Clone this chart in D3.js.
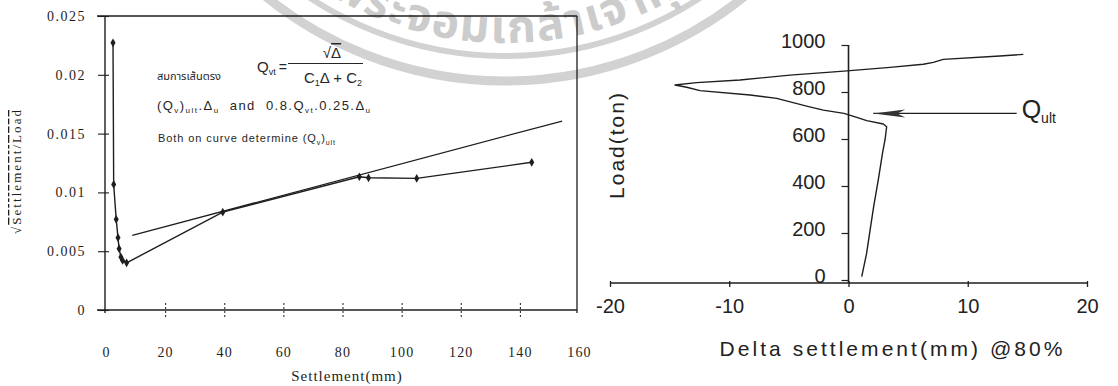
<!DOCTYPE html>
<html><head><meta charset="utf-8">
<script src="https://cdn.jsdelivr.net/npm/d3@7"></script>
<style>
html,body{margin:0;padding:0;background:#fff;}
svg{display:block;}
</style></head><body>
<svg id="chart" width="1118" height="386"></svg>
<script>
// ---------------- Left chart data ----------------
const settlement = [2.37, 2.6, 3.45, 4.06, 4.43, 5.04, 5.62, 6.97, 39.5, 85.7, 88.8, 105.1, 144.0];
const sqrtSettlementPerLoad = [0.02272, 0.01068, 0.00771, 0.00615, 0.00521, 0.0045, 0.00421, 0.00401, 0.00832, 0.01133, 0.01124, 0.01119, 0.01256];
const fitSettlement = [8.9, 154.3];
const fitValue = [0.00634, 0.01607];
const leftXTicks = [0, 20, 40, 60, 80, 100, 120, 140, 160];
const leftXTickLabels = ["0", "20", "40", "60", "80", "100", "120", "140", "160"];
const leftYTicks = [0, 0.005, 0.01, 0.015, 0.02, 0.025];
const leftYTickLabels = ["0", "0.005", "0.01", "0.015", "0.02", "0.025"];

// ---------------- Right chart data ----------------
const deltaSettlement = [1.11, 1.51, 1.81, 2.11, 2.50, 2.86, 3.07, 3.20, 2.92, 1.53, 0.69, -0.38, -2.11, -3.51, -6.02, -8.26, -12.45, -13.57, -14.55, -12.73, -9.10, -4.91, -0.38, 3.48, 6.27, 7.11, 7.95, 12.70, 14.66];
const loadTon = [14, 111, 212, 312, 427, 542, 599, 652, 664, 678, 692, 709, 723, 740, 773, 787, 806, 820, 830, 840, 851, 872, 889, 905, 918, 926, 939, 953, 960];
const rightXTicks = [-20, -10, 0, 10, 20];
const rightXTickLabels = ["-20", "-10", "0", "10", "20"];
const rightYTicks = [0, 200, 400, 600, 800, 1000];
const rightYTickLabels = ["0", "200", "400", "600", "800", "1000"];
const qultArrowDelta = [14.1, 2.08];
const qultArrowLoad = [709, 709];

const watermarkText = "สถาบันเทคโนโลยีพระจอมเกล้าเจ้าคุณทหารลาดกระบัง";

const svg = d3.select("#chart");
const INK = "#1e1e1e";
const SERIF = '"Liberation Serif","DejaVu Serif",serif';
const SANS = '"Liberation Sans",Arial,sans-serif';
const THAI = '"Noto Sans Thai","Noto Sans Thai UI","Loma","Garuda","Tlwg Typo","Noto Sans",sans-serif';

// ---------------- Watermark ----------------
const wm = svg.append("g");
const wmCx = 505, wmCy = -300, rText = 343;
wm.append("circle").attr("cx", wmCx).attr("cy", wmCy).attr("r", 356)
  .attr("fill", "none").attr("stroke", "#d2d2d2").attr("stroke-width", 6);
wm.append("circle").attr("cx", wmCx).attr("cy", wmCy).attr("r", 381)
  .attr("fill", "none").attr("stroke", "#d2d2d2").attr("stroke-width", 9);
wm.append("path").attr("id", "wmArc")
  .attr("d", `M${wmCx - rText},${wmCy} A${rText},${rText} 0 0 0 ${wmCx + rText},${wmCy}`)
  .attr("fill", "none");
const wmT = wm.append("text").attr("font-family", THAI).attr("font-size", 46)
  .attr("font-weight", "bold").attr("letter-spacing", 2).attr("fill", "#cccccc");
const wmTP = wmT.append("textPath").attr("href", "#wmArc").text(watermarkText);
try {
  const el = wmT.node();
  const idx = watermarkText.indexOf("ล้า");
  const pre = el.getSubStringLength(0, idx);
  const w = el.getSubStringLength(idx, 1);
  const theta = Math.acos((553 - wmCx) / rText);
  const arcPos = rText * (Math.PI - theta);
  wmTP.attr("startOffset", arcPos - pre - w / 2);
} catch (e) {
  wmTP.attr("startOffset", 120);
}

// ---------------- Left chart ----------------
const xL = d3.scaleLinear().domain([0, 160]).range([106, 579]);
const yL = d3.scaleLinear().domain([0, 0.025]).range([310, 16]);
const gL = svg.append("g");

// frame
gL.append("line").attr("x1", 97).attr("x2", xL(160) - 2).attr("y1", yL(0.025)).attr("y2", yL(0.025))
  .attr("stroke", INK).attr("stroke-width", 1.3);
gL.append("line").attr("x1", xL(160) - 2).attr("x2", xL(160) - 2).attr("y1", yL(0.025)).attr("y2", yL(0) + 3)
  .attr("stroke", INK).attr("stroke-width", 1.3);
gL.append("line").attr("x1", xL(0) - 1).attr("x2", xL(0) - 1).attr("y1", yL(0.025)).attr("y2", yL(0) + 3)
  .attr("stroke", INK).attr("stroke-width", 1.4);
gL.append("line").attr("x1", 97).attr("x2", xL(160) - 2).attr("y1", yL(0)).attr("y2", yL(0))
  .attr("stroke", INK).attr("stroke-width", 1.3);

// y axis
const yAxL = gL.append("g").attr("transform", `translate(${xL(0) - 1},0)`)
  .call(d3.axisLeft(yL).tickValues(leftYTicks).tickFormat((d, i) => leftYTickLabels[i]).tickSize(7).tickPadding(12));
yAxL.select(".domain").remove();
yAxL.selectAll(".tick line").attr("x1", 4).attr("stroke", INK).attr("stroke-width", 1.1);
yAxL.selectAll(".tick text").attr("font-family", SERIF).attr("font-size", 14).attr("letter-spacing", 1.5)
  .attr("fill", INK);

// x axis
const xAxL = gL.append("g").attr("transform", `translate(0,${yL(0)})`)
  .call(d3.axisBottom(xL).tickValues(leftXTicks).tickFormat((d, i) => leftXTickLabels[i]).tickSize(7).tickPadding(30));
xAxL.select(".domain").remove();
xAxL.selectAll(".tick line").attr("y1", -7).attr("stroke", INK).attr("stroke-width", 1)
  .attr("stroke-dasharray", "2,2")
  .attr("display", d => (d === 0 || d === 160) ? "none" : null);
xAxL.selectAll(".tick text").attr("font-family", SERIF).attr("font-size", 14).attr("letter-spacing", 1.2)
  .attr("fill", INK);

// axis titles
gL.append("text").attr("x", 347).attr("y", 381).attr("text-anchor", "middle")
  .attr("font-family", SERIF).attr("font-size", 15).attr("letter-spacing", 1).attr("fill", INK)
  .text("Settlement(mm)");
const ytL = gL.append("text").attr("transform", "translate(21,172) rotate(-90)").attr("text-anchor", "middle")
  .attr("font-family", SERIF).attr("font-size", 13).attr("fill", INK)
  .attr("textLength", 124).attr("lengthAdjust", "spacing");
ytL.append("tspan").text("√");
ytL.append("tspan").style("text-decoration", "overline").text("Settlement/Load");

// fit line
const lineL = d3.line().x(d => xL(d[0])).y(d => yL(d[1]));
gL.append("path").datum(d3.zip(fitSettlement, fitValue)).attr("d", lineL)
  .attr("fill", "none").attr("stroke", INK).attr("stroke-width", 1.3);
// data line
gL.append("path").datum(d3.zip(settlement, sqrtSettlementPerLoad)).attr("d", lineL)
  .attr("fill", "none").attr("stroke", INK).attr("stroke-width", 1.4);
gL.selectAll(".pt").data(d3.zip(settlement, sqrtSettlementPerLoad)).join("path")
  .attr("transform", d => `translate(${xL(d[0])},${yL(d[1])})`)
  .attr("d", d3.symbol(d3.symbolDiamond, 22)).attr("fill", INK);

// annotations
const ann = gL.append("g").attr("fill", "#262626");
ann.append("text").attr("x", 157).attr("y", 80).attr("font-family", THAI).attr("font-size", 11)
  .text("สมการเส้นตรง");
const qv = ann.append("text").attr("x", 257).attr("y", 72).attr("font-family", SANS).attr("font-size", 15);
qv.append("tspan").text("Q");
qv.append("tspan").attr("font-size", 9).attr("dy", 3).text("vt");
qv.append("tspan").attr("dy", -3).attr("dx", 3).attr("font-size", 14).text("=");
ann.append("line").attr("x1", 288).attr("x2", 363).attr("y1", 63.5).attr("y2", 63.5)
  .attr("stroke", "#262626").attr("stroke-width", 1.1);
const num = ann.append("text").attr("x", 332).attr("y", 58).attr("text-anchor", "middle")
  .attr("font-family", SANS).attr("font-size", 15);
num.append("tspan").text("√");
num.append("tspan").style("text-decoration", "overline").text("Δ");
const den = ann.append("text").attr("x", 333).attr("y", 83).attr("text-anchor", "middle")
  .attr("font-family", SANS).attr("font-size", 15);
den.append("tspan").text("C");
den.append("tspan").attr("font-size", 9).attr("dy", 3).text("1");
den.append("tspan").attr("dy", -3).text("Δ + C");
den.append("tspan").attr("font-size", 9).attr("dy", 3).text("2");

const l2 = ann.append("text").attr("x", 157).attr("y", 110).attr("font-family", SANS).attr("font-size", 13)
  .attr("textLength", 213).attr("lengthAdjust", "spacing");
[["(Q", 0, 13], ["v", 3, 8], [")", -3, 13], ["ult", 3, 8], [".Δ", -3, 13], ["u", 3, 8],
 ["  and  0.8.Q", -3, 13], ["vt", 3, 8], [".0.25.Δ", -3, 13], ["u", 3, 8]].forEach(([t, dy, fs]) => {
  l2.append("tspan").attr("dy", dy).attr("font-size", fs).attr("xml:space", "preserve").text(t);
});
const l3 = ann.append("text").attr("x", 158).attr("y", 142).attr("font-family", SANS).attr("font-size", 11)
  .attr("textLength", 177).attr("lengthAdjust", "spacing");
[["Both on curve determine (Q", 0, 11], ["v", 3, 7], [")", -3, 11], ["ult", 3, 7]].forEach(([t, dy, fs]) => {
  l3.append("tspan").attr("dy", dy).attr("font-size", fs).text(t);
});

// ---------------- Right chart ----------------
const xR = d3.scaleLinear().domain([-20, 20]).range([610, 1087]);
const yR = d3.scaleLinear().domain([0, 1000]).range([280, 45]);
const gR = svg.append("g");
const xAxisY = yR(0) + 3;

// y axis
const yAxR = gR.append("g").attr("transform", `translate(${xR(0)},0)`)
  .call(d3.axisLeft(yR).tickValues(rightYTicks).tickFormat((d, i) => rightYTickLabels[i]).tickSize(7).tickPadding(16));
yAxR.select(".domain").remove();
gR.append("line").attr("x1", xR(0)).attr("x2", xR(0)).attr("y1", yR(1000)).attr("y2", xAxisY)
  .attr("stroke", INK).attr("stroke-width", 1.6);
yAxR.selectAll(".tick line").attr("stroke", INK).attr("stroke-width", 1.2);
yAxR.selectAll(".tick text").attr("font-family", SANS).attr("font-size", 20).attr("y", -4.4)
  .attr("fill", "#222");

// x axis
const xAxR = gR.append("g").attr("transform", `translate(0,${xAxisY})`)
  .call(d3.axisBottom(xR).tickValues(rightXTicks).tickFormat((d, i) => rightXTickLabels[i]).tickSize(4).tickPadding(12));
xAxR.select(".domain").attr("d", `M${xR(-20)},0H${xR(20)}`).attr("stroke", INK).attr("stroke-width", 1.6);
xAxR.selectAll(".tick line").attr("y1", -2).attr("stroke", INK).attr("stroke-width", 1.3);
xAxR.selectAll(".tick text").attr("font-family", SANS).attr("font-size", 20).attr("fill", "#222");

// titles
gR.append("text").attr("x", 891).attr("y", 356).attr("text-anchor", "middle")
  .attr("font-family", SANS).attr("font-size", 21).attr("fill", "#222")
  .attr("textLength", 343).attr("lengthAdjust", "spacing")
  .text("Delta settlement(mm) @80%");
gR.append("text").attr("transform", "translate(624,146) rotate(-90)").attr("text-anchor", "middle")
  .attr("font-family", SANS).attr("font-size", 21).attr("fill", "#222")
  .attr("textLength", 106).attr("lengthAdjust", "spacing")
  .text("Load(ton)");

// data line
const lineR = d3.line().x(d => xR(d[0])).y(d => yR(d[1]));
gR.append("path").datum(d3.zip(deltaSettlement, loadTon)).attr("d", lineR)
  .attr("fill", "none").attr("stroke", INK).attr("stroke-width", 1.4).attr("stroke-linejoin", "round");

// Q_ult arrow
const arr = d3.zip(qultArrowDelta, qultArrowLoad);
gR.append("path").datum(arr).attr("d", lineR).attr("stroke", INK).attr("stroke-width", 1.3).attr("fill", "none");
const tipX = xR(qultArrowDelta[1]), tipY = yR(qultArrowLoad[1]);
gR.append("path").attr("d", `M${tipX},${tipY} L${tipX + 32},${tipY - 4} L${tipX + 24},${tipY} L${tipX + 32},${tipY + 4} Z`)
  .attr("fill", "#333");
const qu = gR.append("text").attr("x", xR(qultArrowDelta[0]) + 5).attr("y", tipY + 5)
  .attr("font-family", SANS).attr("font-size", 25).attr("fill", "#222");
qu.append("tspan").text("Q");
qu.append("tspan").attr("font-size", 14).attr("dy", 5).text("ult");
</script>
</body></html>
